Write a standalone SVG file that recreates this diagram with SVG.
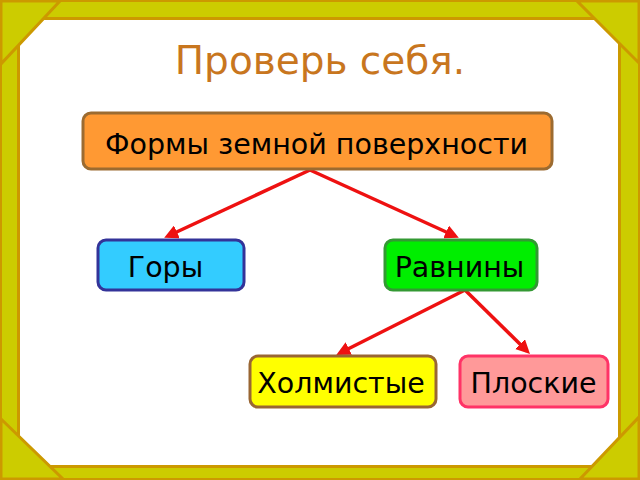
<svg xmlns="http://www.w3.org/2000/svg" width="640" height="480" viewBox="0 0 640 480">
<defs>
<style>
.frame{fill:#CCCC00;stroke:#CC9900;stroke-width:3}
.box{stroke-width:3}
.lbl{font-family:"DejaVu Sans",sans-serif;font-size:28.5px;fill:#000;text-anchor:middle}
.conn{stroke:#EE1111;stroke-width:3.5;fill:none;marker-end:url(#ah)}
</style>
<marker id="ah" viewBox="0 0 10 10" refX="7" refY="5" markerWidth="4" markerHeight="4" orient="auto" markerUnits="strokeWidth">
<path d="M0,0 L10,5 L0,10 z" fill="#EE1111"/>
</marker>
</defs>
<g id="frame">
<rect x="0" y="0" width="640" height="480" fill="#CCCC00"/>
<rect x="18.5" y="18.5" width="601" height="448" fill="#FFFFFF" stroke="#CC9900" stroke-width="3"/>
<rect x="1" y="1" width="638" height="478" fill="none" stroke="#CC9900" stroke-width="2"/>
<polygon class="frame" points="1,1 60,1 1,64"/>
<polygon class="frame" points="639,1 577,1 639,63"/>
<polygon class="frame" points="1,479 63,479 1,419"/>
<polygon class="frame" points="639,479 580,479 639,417"/>
</g>
<text x="320" y="74" font-family="DejaVu Sans,sans-serif" font-size="39" fill="#C8761E" text-anchor="middle">Проверь себя.</text>
<g id="connectors">
<line class="conn" x1="310" y1="170" x2="168" y2="236"/>
<line class="conn" x1="310" y1="170" x2="455" y2="236"/>
<line class="conn" x1="465" y1="290" x2="340" y2="353"/>
<line class="conn" x1="465" y1="290" x2="527" y2="351"/>
</g>
<g id="n-main">
<rect class="box" x="83" y="113" width="469" height="56" rx="8" fill="#FF9933" stroke="#9C6B30"/>
<text class="lbl" x="316.5" y="154">Формы земной поверхности</text>
</g>
<g id="n-gory">
<rect class="box" x="98" y="240" width="146" height="50" rx="8" fill="#33CCFF" stroke="#333399"/>
<text class="lbl" x="165.5" y="277">Горы</text>
</g>
<g id="n-ravniny">
<rect class="box" x="385" y="240" width="152" height="50" rx="8" fill="#00EE00" stroke="#339933"/>
<text class="lbl" x="459.5" y="277">Равнины</text>
</g>
<g id="n-holm">
<rect class="box" x="250" y="356" width="186" height="51" rx="8" fill="#FFFF00" stroke="#996633"/>
<text class="lbl" x="341" y="393">Холмистые</text>
</g>
<g id="n-plosk">
<rect class="box" x="460" y="356" width="148" height="51" rx="8" fill="#FF9999" stroke="#FF3366"/>
<text class="lbl" x="533.5" y="393">Плоские</text>
</g>
</svg>
